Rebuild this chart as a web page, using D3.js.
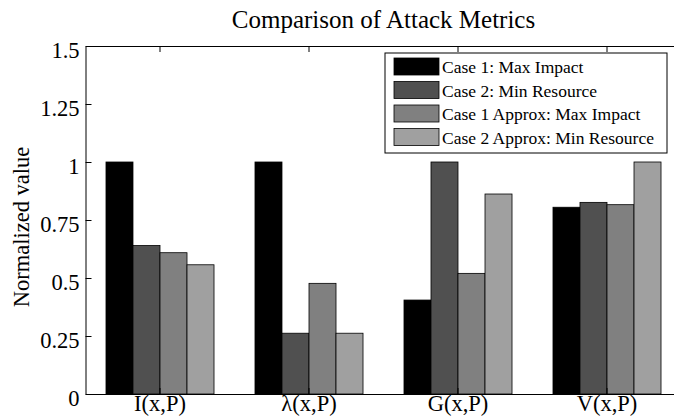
<!DOCTYPE html>
<html>
<head>
<meta charset="utf-8">
<script src="https://cdn.jsdelivr.net/npm/d3@7"></script>
<style>
  body { margin: 0; background: #fff; }
  text { font-family: "Liberation Serif", "Times New Roman", serif; }
</style>
</head>
<body>
<script>
// chart data
var categories = ["I(x,P)", "λ(x,P)", "G(x,P)", "V(x,P)"];
var seriesNames = ["Case 1: Max Impact", "Case 2: Min Resource", "Case 1 Approx: Max Impact", "Case 2 Approx: Min Resource"];
var case1 = [1, 1, 0.405, 0.805];
var case2 = [0.64, 0.262, 1, 0.826];
var case1Approx = [0.609, 0.477, 0.52, 0.816];
var case2Approx = [0.557, 0.262, 0.862, 1];
var seriesColors = ["#000000", "#505050", "#808080", "#a0a0a0"];
var yTicks = [0, 0.25, 0.5, 0.75, 1, 1.25, 1.5];

var allSeries = [case1, case2, case1Approx, case2Approx];

var width = 674, height = 416;
var margin = { top: 46, right: -7.5, bottom: 22, left: 85.5 };
var tickFont = 22.5;

var svg = d3.select("body")
  .append("svg")
  .attr("width", width)
  .attr("height", height);

var x0 = d3.scaleBand()
  .domain(categories)
  .range([margin.left, width - margin.right])
  .paddingInner(0.275)
  .paddingOuter(0.1375);

var x1 = d3.scaleBand()
  .domain(d3.range(seriesNames.length))
  .range([0, x0.bandwidth()]);

var yScale = d3.scaleLinear()
  .domain([0, 1.5])
  .range([height - margin.bottom, margin.top]);

// bars
var groups = svg.selectAll("g.grp")
  .data(categories)
  .enter()
  .append("g")
    .attr("class", "grp")
    .attr("transform", function(d) { return "translate(" + x0(d) + ",0)"; });

groups.selectAll("rect")
  .data(function(d, i) { return allSeries.map(function(s, j) { return { s: j, v: s[i] }; }); })
  .enter()
  .append("rect")
    .attr("x", function(d) { return x1(d.s); })
    .attr("y", function(d) { return yScale(d.v); })
    .attr("width", x1.bandwidth())
    .attr("height", function(d) { return yScale(0) - yScale(d.v); })
    .attr("fill", function(d) { return seriesColors[d.s]; })
    .attr("stroke", "#000")
    .attr("stroke-width", 0.8);

// axes (ticks pointing inward like matlab)
var yAxis = svg.append("g")
  .attr("transform", "translate(" + margin.left + ",0)")
  .call(d3.axisRight(yScale).tickValues(yTicks).tickSize(6).tickFormat(function(d) { return d; }));
yAxis.selectAll("text")
  .attr("x", -6)
  .attr("dy", "0.5em")
  .attr("text-anchor", "end")
  .attr("font-size", tickFont)
  .attr("font-family", "Liberation Serif")
  .attr("fill", "#000");

var xAxis = svg.append("g")
  .attr("transform", "translate(0," + yScale(0) + ")")
  .call(d3.axisTop(x0).tickSize(6).tickSizeOuter(0));
xAxis.selectAll("text")
  .attr("y", 16.5)
  .attr("font-size", tickFont)
  .attr("font-family", "Liberation Serif")
  .attr("fill", "#000");

var topAxis = svg.append("g")
  .attr("transform", "translate(0," + margin.top + ")")
  .call(d3.axisBottom(x0).tickSize(6).tickSizeOuter(0).tickFormat(""));

svg.selectAll(".domain").attr("stroke", "#000");
svg.selectAll(".tick line").attr("stroke", "#000");

// right border (falls just outside the window, as in the original)
svg.append("line")
  .attr("x1", width - margin.right).attr("x2", width - margin.right)
  .attr("y1", margin.top).attr("y2", yScale(0))
  .attr("stroke", "#000");

// title and y label
svg.append("text")
  .attr("x", (margin.left + width - margin.right) / 2)
  .attr("y", 28)
  .attr("text-anchor", "middle")
  .attr("font-size", 25)
  .text("Comparison of Attack Metrics");

svg.append("text")
  .attr("transform", "translate(29,227) rotate(-90)")
  .attr("text-anchor", "middle")
  .attr("font-size", 22.5)
  .text("Normalized value");

// legend
var legend = svg.append("g").attr("transform", "translate(385,53)");
legend.append("rect")
  .attr("width", 282)
  .attr("height", 100)
  .attr("fill", "#fff")
  .attr("stroke", "#000");

var items = legend.selectAll("g.item")
  .data(seriesNames)
  .enter()
  .append("g")
    .attr("class", "item")
    .attr("transform", function(d, i) { return "translate(9," + (5 + i * 23.5) + ")"; });

items.append("rect")
  .attr("width", 45)
  .attr("height", 17)
  .attr("fill", function(d, i) { return seriesColors[i]; })
  .attr("stroke", "#000")
  .attr("stroke-width", 0.8);

items.append("text")
  .attr("x", 48)
  .attr("y", 15)
  .attr("font-size", 17.5)
  .text(function(d) { return d; });
</script>
</body>
</html>
